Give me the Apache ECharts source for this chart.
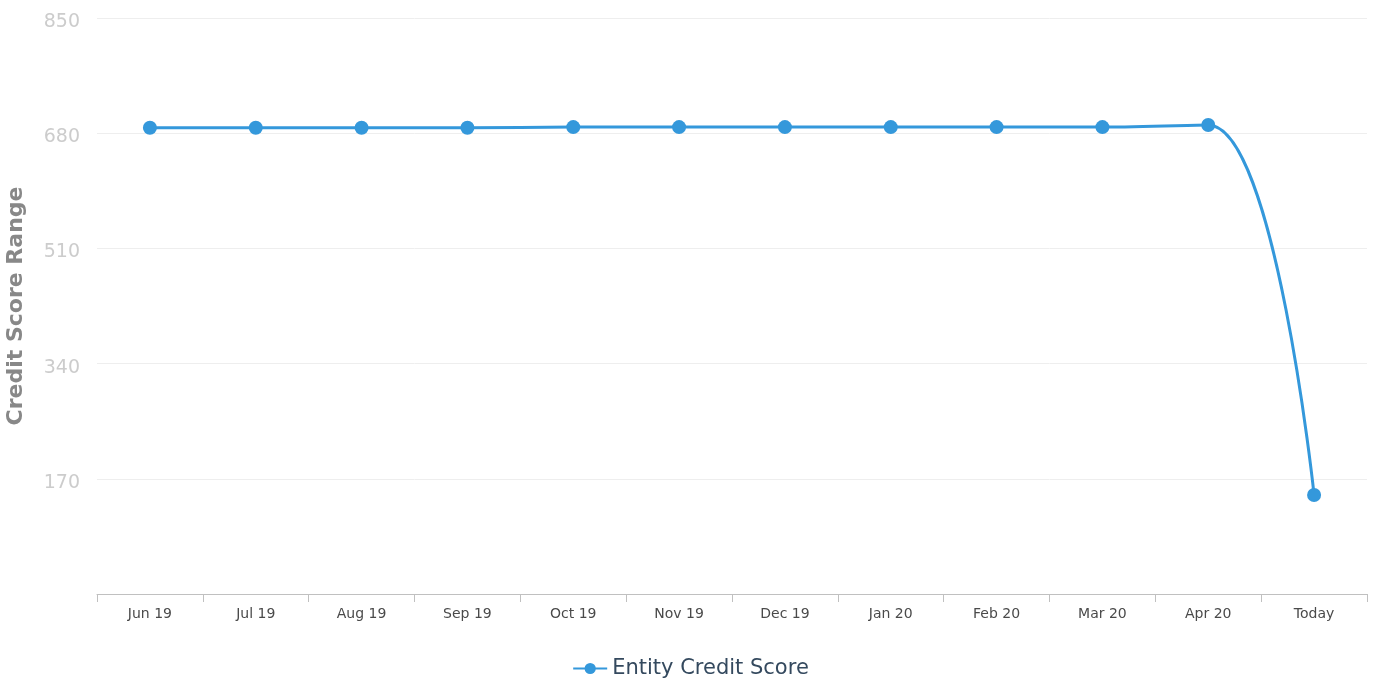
<!DOCTYPE html>
<html>
<head>
<meta charset="utf-8">
<script src="https://cdn.jsdelivr.net/npm/echarts@6/dist/echarts.min.js"></script>
<style>
  html, body { margin: 0; padding: 0; background: #fff; }
  #main { width: 1381px; height: 682px; }
</style>
</head>
<body>
<div id="main"></div>
<script>
var months = ['Jun 19', 'Jul 19', 'Aug 19', 'Sep 19', 'Oct 19', 'Nov 19', 'Dec 19', 'Jan 20', 'Feb 20', 'Mar 20', 'Apr 20', 'Today'];
var scores = [688, 688, 688, 688, 689, 689, 689, 689, 689, 689, 692, 146];
var yTicks = { min: 0, max: 850, step: 170 };

var myChart = echarts.init(document.getElementById('main'));
var options = {
    animation: false,
    grid: { left: 97, right: 14, top: 18, bottom: 88, outerBoundsMode: 'none', containLabel: false },
    legend: {
        top: 653,
        left: 'center',
        itemWidth: 34,
        itemHeight: 14,
        itemGap: 8,
        data: ['Entity Credit Score'],
        textStyle: { fontSize: 21, color: '#34495e', fontFamily: 'DejaVu Sans' }
    },
    xAxis: {
        type: 'category',
        data: months,
        boundaryGap: true,
        axisLine: { lineStyle: { color: '#c0c0c0', width: 1 } },
        axisTick: { show: true, length: 8, lineStyle: { color: '#c0c0c0' } },
        axisLabel: { color: '#4a4a4a', fontSize: 14, margin: 13, fontFamily: 'DejaVu Sans' }
    },
    yAxis: {
        type: 'value',
        min: yTicks.min,
        max: yTicks.max,
        interval: yTicks.step,
        name: 'Credit Score Range',
        nameLocation: 'middle',
        nameGap: 70,
        nameTextStyle: { color: '#888', fontSize: 22, fontWeight: 'bold', fontFamily: 'DejaVu Sans' },
        axisLine: { show: false },
        axisTick: { show: false },
        axisLabel: {
            color: '#cccccc', fontSize: 19, margin: 17, fontFamily: 'DejaVu Sans',
            formatter: function (v) { return v === 0 ? '' : '{a|' + v + '}'; },
            rich: { a: { color: '#cccccc', fontSize: 19, fontFamily: 'DejaVu Sans', padding: [8, 0, 0, 0] } }
        },
        splitLine: { lineStyle: { color: '#eeeeee', width: 1 } }
    },
    series: [{
        name: 'Entity Credit Score',
        type: 'line',
        data: scores,
        smooth: 0.4,
        symbol: 'circle',
        symbolSize: 14,
        itemStyle: { color: '#3498db' },
        lineStyle: { color: '#3498db', width: 3 }
    }]
};
myChart.setOption(options);
</script>
</body>
</html>
